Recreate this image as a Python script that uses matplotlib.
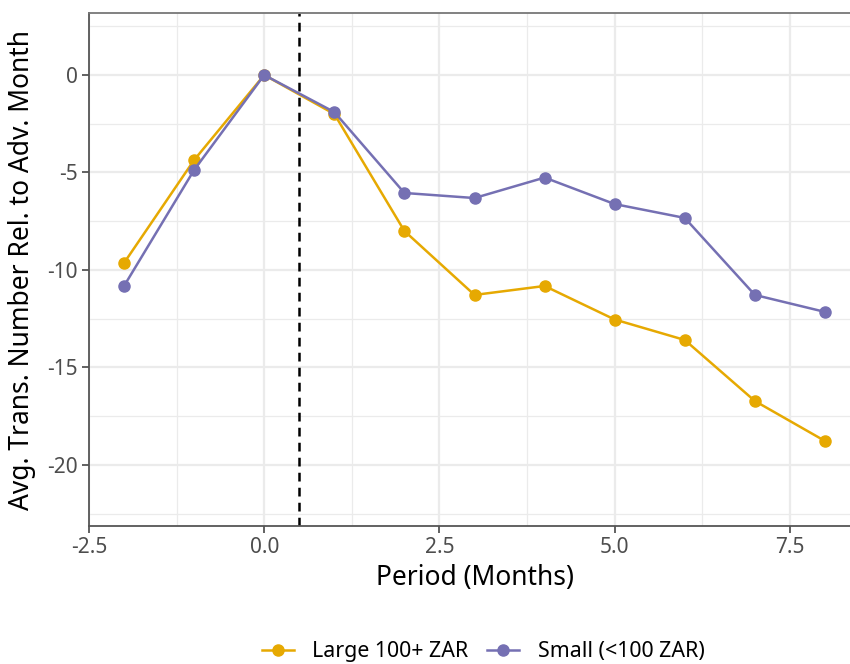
import matplotlib.pyplot as plt
from matplotlib.lines import Line2D

plt.rcParams['font.family'] = ['Noto Sans', 'DejaVu Sans']

period = [-2, -1, 0, 1, 2, 3, 4, 5, 6, 7, 8]
large = [-9.64, -4.36, 0.0, -2.0, -8.0, -11.28, -10.82, -12.54, -13.59, -16.72, -18.77]
small = [-10.82, -4.87, 0.0, -1.9, -6.05, -6.31, -5.26, -6.62, -7.33, -11.28, -12.15]
labels = ["Large 100+ ZAR", "Small (<100 ZAR)"]
colors = ["#E6A902", "#7570B3"]

W, H = 850, 664
fig = plt.figure(figsize=(8.5, 6.64), dpi=100)
ax = fig.add_axes([89 / W, (H - 526) / H, 771 / W, 513 / H])

ax.set_xlim(-2.5, 8.5)
ax.set_ylim(-23.13, 3.18)

ax.set_xticks([-2.5, 0, 2.5, 5, 7.5])
ax.set_xticklabels(["-2.5", "0.0", "2.5", "5.0", "7.5"])
ax.set_xticks([-1.25, 1.25, 3.75, 6.25], minor=True)
ax.set_yticks([-20, -15, -10, -5, 0])
ax.set_yticklabels(["-20", "-15", "-10", "-5", "0"])
ax.set_yticks([-22.5, -17.5, -12.5, -7.5, -2.5, 2.5], minor=True)

ax.grid(which='major', color='#EBEBEB', linewidth=1.6)
ax.grid(which='minor', color='#EBEBEB', linewidth=0.9)
ax.set_axisbelow(True)

for s in ['left', 'bottom']:
    ax.spines[s].set_color('#555555')
    ax.spines[s].set_linewidth(1.3)
ax.spines['top'].set_color('#777777')
ax.spines['top'].set_linewidth(1.3)
ax.spines['right'].set_visible(False)

ax.tick_params(which='major', length=5, width=1.3, color='#555555',
               labelsize=15, labelcolor='#4D4D4D', pad=3)
ax.tick_params(which='minor', length=0)

ax.axvline(0.5, color='black', linestyle=(0, (3.5, 2.5)), linewidth=1.8, zorder=2)

ax.plot(period, large, color=colors[0], linewidth=1.8, marker='o', markersize=8, zorder=3)
ax.plot(period, small, color=colors[1], linewidth=1.8, marker='o', markersize=8, zorder=3)

ax.set_xlabel("Period (Months)", fontsize=19, labelpad=4)
ax.set_ylabel("Avg. Trans. Number Rel. to Adv. Month", fontsize=19, labelpad=8)

handles = [Line2D([], [], color=c, linewidth=1.8, marker='o', markersize=8) for c in colors]
fig.legend(handles, labels, loc='center', bbox_to_anchor=(483 / W, 1 - 652 / H), ncol=2,
           frameon=False, fontsize=15.4, handlelength=1.5, columnspacing=0.9, handletextpad=0.85)

fig.savefig("out.png", dpi=100)
